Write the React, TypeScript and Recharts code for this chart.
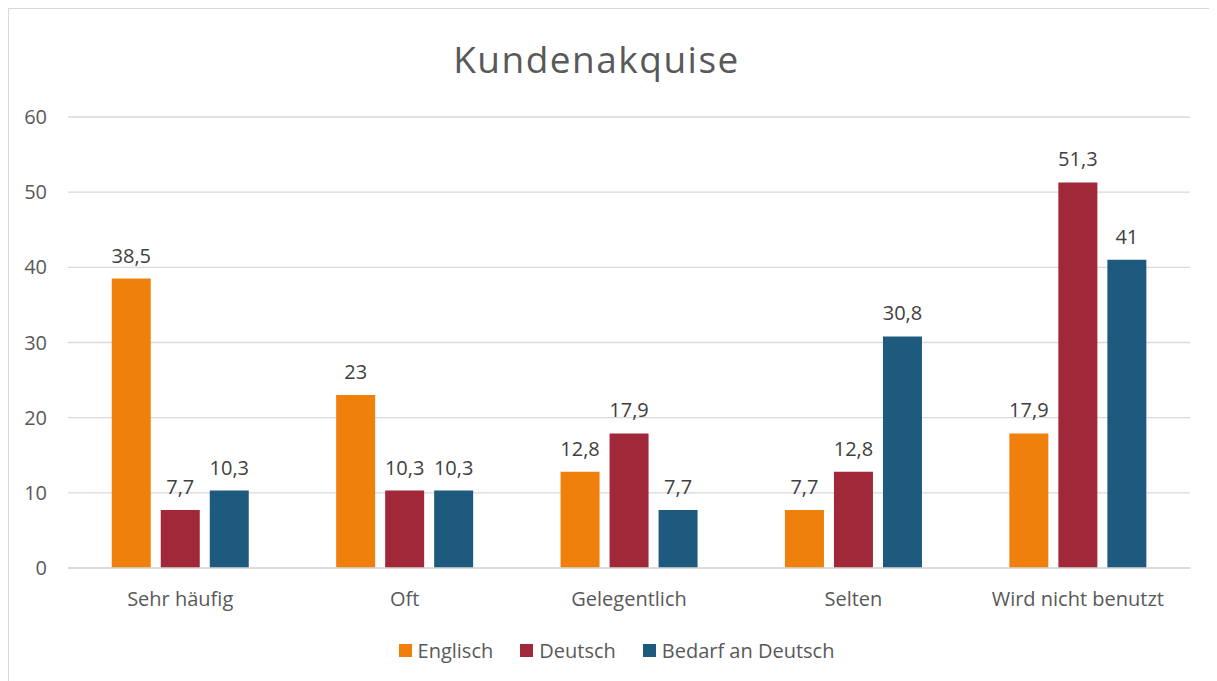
import React from "react";
import { BarChart, Bar, XAxis, YAxis, CartesianGrid, Legend, LabelList } from "recharts";

const categories = ["Sehr häufig", "Oft", "Gelegentlich", "Selten", "Wird nicht benutzt"];
const englisch = [38.5, 23, 12.8, 7.7, 17.9];
const deutsch = [7.7, 10.3, 17.9, 12.8, 51.3];
const bedarf = [10.3, 10.3, 7.7, 30.8, 41];
const yTicks = [0, 10, 20, 30, 40, 50, 60];

const seriesInfo = [
  { key: "englisch", name: "Englisch", color: "#F0800C" },
  { key: "deutsch", name: "Deutsch", color: "#A12838" },
  { key: "bedarf", name: "Bedarf an Deutsch", color: "#1D5A7E" },
];

const data = categories.map((c, i) => ({
  category: c,
  englisch: englisch[i],
  deutsch: deutsch[i],
  bedarf: bedarf[i],
}));

const FONT = "'Open Sans', sans-serif";
const fmt = (v: any) => String(v).replace(".", ",");

const LegendContent = () => (
  <div style={{ display: "flex", justifyContent: "center", alignItems: "center", height: 30, paddingLeft: 34, fontFamily: FONT, fontSize: 20, color: "#595959" }}>
    {seriesInfo.map((s, i) => (
      <div key={s.key} style={{ display: "flex", alignItems: "center", marginLeft: i === 0 ? 0 : 27 }}>
        <div style={{ width: 13, height: 13, background: s.color, marginRight: 6 }} />
        <span>{s.name}</span>
      </div>
    ))}
  </div>
);

export default function App() {
  return (
    <div style={{ position: "relative", width: 1230, height: 700, boxSizing: "border-box", borderTop: "1px solid #d9d9d9", borderLeft: "1px solid #d9d9d9", background: "#fff" }}>
      <style>{"html,body{overflow:hidden}"}</style>
      <div style={{ position: "absolute", top: 31, left: 0, width: 1175, textAlign: "center", fontFamily: FONT, fontSize: 37, lineHeight: 1, color: "#595959", letterSpacing: 1.5 }}>
        Kundenakquise
      </div>
      <div style={{ position: "absolute", top: 0, left: 0 }}>
        <BarChart
          width={1200}
          height={664}
          data={data}
          margin={{ top: 108, right: 19, bottom: 0, left: 0 }}
          barCategoryGap="19.5%"
          barGap={10}
        >
          <CartesianGrid vertical={false} stroke="#d9d9d9" strokeWidth={1.3} />
          <XAxis
            dataKey="category"
            height={75}
            axisLine={{ stroke: "#d9d9d9", strokeWidth: 1.3 }}
            tickLine={false}
            tickMargin={18}
            tick={{ fill: "#595959", fontSize: 20, fontFamily: FONT }}
          />
          <YAxis
            width={59}
            domain={[0, 60]}
            ticks={yTicks}
            axisLine={false}
            tickLine={false}
            tickMargin={15}
            tick={{ fill: "#595959", fontSize: 20, fontFamily: FONT }}
          />
          <Legend verticalAlign="bottom" content={<LegendContent />} wrapperStyle={{ bottom: 8 }} />
          {seriesInfo.map((s) => (
            <Bar key={s.key} dataKey={s.key} name={s.name} fill={s.color} isAnimationActive={false}>
              <LabelList dataKey={s.key} position="top" offset={16} formatter={fmt} fill="#404040" fontSize={20} fontFamily={FONT} />
            </Bar>
          ))}
        </BarChart>
      </div>
    </div>
  );
}
